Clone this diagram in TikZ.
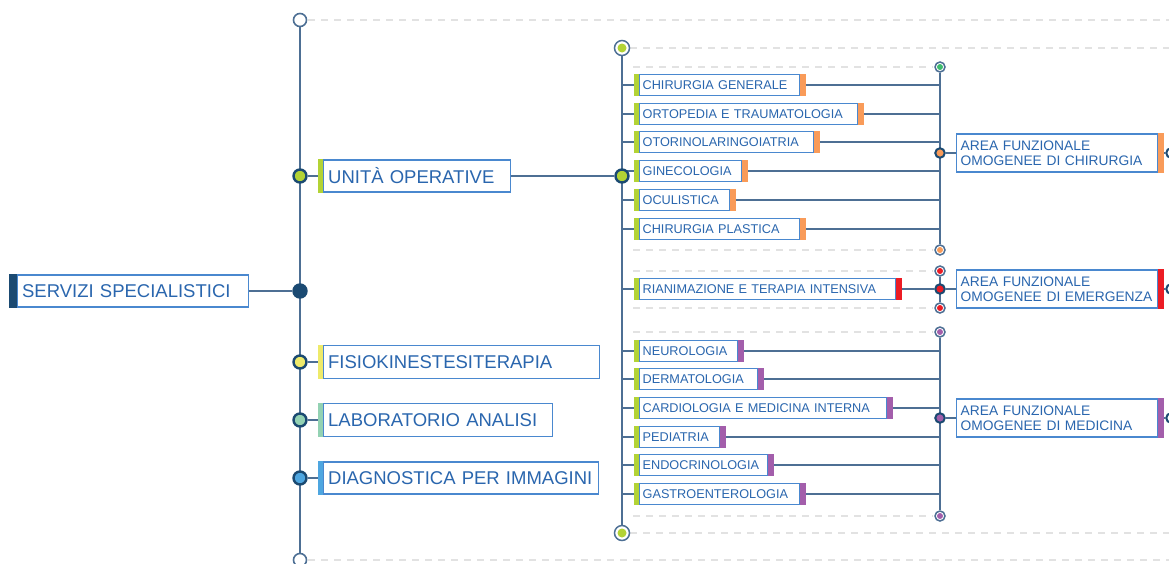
\documentclass[tikz,border=0pt]{standalone}
\usepackage{fontspec}
\setmainfont{Liberation Sans}
\usetikzlibrary{calc}
\pgfdeclarelayer{bg}
\pgfsetlayers{bg,main}
\hyphenpenalty=10000
\exhyphenpenalty=10000
\uchyph=0
\definecolor{lineblue}{HTML}{4D6F94}
\definecolor{navy}{HTML}{1B4A72}
\definecolor{boxblue}{HTML}{4A88CF}
\definecolor{txtblue}{HTML}{2A66AE}
\definecolor{cgreen}{HTML}{B3D335}
\definecolor{corange}{HTML}{F99B59}
\definecolor{cred}{HTML}{EC1C24}
\definecolor{cpurple}{HTML}{A35EAB}
\definecolor{cyellow}{HTML}{EEEA6A}
\definecolor{cteal}{HTML}{93D2B3}
\definecolor{clblue}{HTML}{4EA6E0}
\definecolor{cdgreen}{HTML}{3DBB6E}
\definecolor{dashgrey}{HTML}{E2E2E2}
\begin{document}
\begin{tikzpicture}[x=1pt,y=-1pt,
  ln/.style={draw=lineblue, line width=1.4pt},
  dsh/.style={draw=dashgrey, line width=1.1pt, dash pattern=on 7pt off 6pt},
  mainbox/.style={draw=boxblue, line width=1.3pt, fill=white, text=txtblue, anchor=west, align=left,
    inner xsep=4.5pt, inner ysep=0pt, font=\fontsize{18.5}{20}\selectfont},
  itembox/.style={draw=boxblue, line width=1.3pt, fill=white, text=txtblue, anchor=west, align=left,
    inner xsep=3pt, inner ysep=0pt, minimum height=21pt, font=\fontsize{12.7}{14}\selectfont},
  areabox/.style={draw=boxblue, line width=1.3pt, fill=white, text=txtblue, anchor=west, align=left,
    inner xsep=4pt, inner ysep=0pt, minimum height=38pt, text width=193pt, font=\fontsize{13.8}{15}\selectfont},
  bigdot/.style={circle, draw=navy, line width=2.4pt, fill=#1, minimum size=13pt, inner sep=0pt},
  middot/.style={circle, draw=navy, line width=2pt, fill=#1, minimum size=9.5pt, inner sep=0pt},
  opendot/.style={circle, draw=lineblue, line width=1.6pt, fill=white, minimum size=13pt, inner sep=0pt},
  ringdot/.style 2 args={circle, draw=lineblue, line width=1.5pt, fill=white, minimum size=#2, inner sep=0pt,
    path picture={\fill[#1] (path picture bounding box.center) circle (0.3*#2);}},
]
\useasboundingbox (0,0) rectangle (1169,563);

% decorative dashed guide lines
\draw[dsh] (308,20) -- (1169,20);
\draw[dsh] (308,560) -- (1169,560);
\draw[dsh] (630,48) -- (1169,48);
\draw[dsh] (630,533) -- (1169,533);
\foreach \yy in {67,250,271,308,332,516} \draw[dsh] (633,\yy) -- (933,\yy);

% level 0 / 1
\node[mainbox, minimum height=32pt, text width=222pt] (servizi) at (17,291) {SERVIZI SPECIALISTICI};
\node[opendot] (top) at (300,20) {};
\node[opendot] (bot) at (300,560) {};
\node[bigdot=navy] (d0) at (300,291) {};
\node[bigdot=cgreen] (d1) at (300,176) {};
\node[bigdot=cyellow] (d3) at (300,362) {};
\node[bigdot=cteal] (d4) at (300,420) {};
\node[bigdot=clblue] (d5) at (300,478) {};
\node[mainbox, minimum height=32pt, text width=178pt] (uo) at (323,176) {UNITÀ OPERATIVE};
\node[mainbox, minimum height=33pt, text width=267pt] (fisio) at (323,362) {FISIOKINESTESITERAPIA};
\node[mainbox, minimum height=33pt, text width=220pt] (lab) at (323,420) {LABORATORIO ANALISI};
\node[mainbox, minimum height=32pt, text width=266pt] (diag) at (323,478) {DIAGNOSTICA PER IMMAGINI};

% level 2 trunk
\node[ringdot={cgreen}{15pt}] (t2) at (622,48) {};
\node[ringdot={cgreen}{15pt}] (b2) at (622,533) {};
\node[bigdot=cgreen] (d2) at (622,176) {};

% items
\node[itembox, text width=154pt] (i1) at (639,85) {CHIRURGIA GENERALE};
\node[itembox, text width=212pt] (i2) at (639,114) {ORTOPEDIA E TRAUMATOLOGIA};
\node[itembox, text width=168pt] (i3) at (639,142) {OTORINOLARINGOIATRIA};
\node[itembox, text width=96pt] (i4) at (639,171) {GINECOLOGIA};
\node[itembox, text width=84pt] (i5) at (639,200) {OCULISTICA};
\node[itembox, text width=154pt] (i6) at (639,229) {CHIRURGIA PLASTICA};
\node[itembox, text width=250pt] (r1) at (639,289) {RIANIMAZIONE E TERAPIA INTENSIVA};
\node[itembox, text width=92pt] (m1) at (639,351) {NEUROLOGIA};
\node[itembox, text width=112pt] (m2) at (639,379) {DERMATOLOGIA};
\node[itembox, text width=241pt] (m3) at (639,408) {CARDIOLOGIA E MEDICINA INTERNA};
\node[itembox, text width=74pt] (m4) at (639,437) {PEDIATRIA};
\node[itembox, text width=122pt] (m5) at (639,465) {ENDOCRINOLOGIA};
\node[itembox, text width=154pt] (m6) at (639,494) {GASTROENTEROLOGIA};

% area collectors
\node[ringdot={cdgreen}{10pt}] (ctop) at (940,67) {};
\node[ringdot={corange}{10pt}] (cbot) at (940,250) {};
\node[middot=corange] (cdot) at (940,153) {};
\node[ringdot={cred}{10pt}] (etop) at (940,271) {};
\node[ringdot={cred}{10pt}] (ebot) at (940,308) {};
\node[middot=cred] (edot) at (940,289) {};
\node[ringdot={cpurple}{10pt}] (mtop) at (940,332) {};
\node[ringdot={cpurple}{10pt}] (mbot) at (940,516) {};
\node[middot=cpurple] (mdot) at (940,418) {};

\node[areabox] (ca) at (956,153) {AREA FUNZIONALE\\OMOGENEE DI CHIRURGIA};
\node[areabox] (ea) at (956,289) {AREA FUNZIONALE\\OMOGENEE DI EMERGENZA};
\node[areabox] (ma) at (956,418) {AREA FUNZIONALE\\OMOGENEE DI MEDICINA};

\node[middot=white] (cend) at (1171,153) {};
\node[middot=white] (eend) at (1171,289) {};
\node[middot=white] (mend) at (1171,418) {};

\begin{pgfonlayer}{bg}
  % connectors
  \draw[ln] (top) -- (bot);
  \draw[ln] (servizi.east) -- (d0);
  \foreach \d/\b in {d1/uo,d3/fisio,d4/lab,d5/diag} \draw[ln] (\d) -- (\b.west);
  \draw[ln] (uo.east) -- (d2);
  \draw[ln] (t2) -- (b2);
  \foreach \n in {i1,i2,i3,i4,i5,i6,r1,m1,m2,m3,m4,m5,m6} \draw[ln] (\n.west -| t2) -- (\n.west);
  \foreach \n in {i1,i2,i3,i4,i5,i6} \draw[ln] (\n.east) -- (\n.east -| ctop);
  \draw[ln] (r1.east) -- (edot);
  \foreach \n in {m1,m2,m3,m4,m5,m6} \draw[ln] (\n.east) -- (\n.east -| mtop);
  \draw[ln] (ctop) -- (cbot);
  \draw[ln] (etop) -- (ebot);
  \draw[ln] (mtop) -- (mbot);
  \draw[ln] (cdot) -- (ca.west);
  \draw[ln] (edot) -- (ea.west);
  \draw[ln] (mdot) -- (ma.west);
  \draw[ln] (ca.east) -- (cend);
  \draw[ln] (ea.east) -- (eend);
  \draw[ln] (ma.east) -- (mend);

  % colour bars (over the connectors, under the boxes)
  \fill[navy] ([xshift=-8pt]servizi.north west) rectangle ([xshift=1pt]servizi.south west);
  \fill[cgreen] ([xshift=-5.5pt]uo.north west) rectangle ([xshift=1pt]uo.south west);
  \fill[cyellow] ([xshift=-5.5pt]fisio.north west) rectangle ([xshift=1pt]fisio.south west);
  \fill[cteal] ([xshift=-5.5pt]lab.north west) rectangle ([xshift=1pt]lab.south west);
  \fill[clblue] ([xshift=-5.5pt]diag.north west) rectangle ([xshift=1pt]diag.south west);
  \foreach \n in {i1,i2,i3,i4,i5,i6,r1,m1,m2,m3,m4,m5,m6}
    \fill[cgreen] ([xshift=-5.5pt]\n.north west) rectangle ([xshift=1pt]\n.south west);
  \foreach \n in {i1,i2,i3,i4,i5,i6}
    \fill[corange] ([xshift=-1pt]\n.north east) rectangle ([xshift=5.5pt]\n.south east);
  \fill[cred] ([xshift=-1pt]r1.north east) rectangle ([xshift=5.5pt]r1.south east);
  \foreach \n in {m1,m2,m3,m4,m5,m6}
    \fill[cpurple] ([xshift=-1pt]\n.north east) rectangle ([xshift=5.5pt]\n.south east);
  \fill[corange] ([xshift=-1pt]ca.north east) rectangle ([xshift=5.5pt]ca.south east);
  \fill[cred] ([xshift=-1pt]ea.north east) rectangle ([xshift=5.5pt]ea.south east);
  \fill[cpurple] ([xshift=-1pt]ma.north east) rectangle ([xshift=5.5pt]ma.south east);
\end{pgfonlayer}
\end{tikzpicture}
\end{document}
